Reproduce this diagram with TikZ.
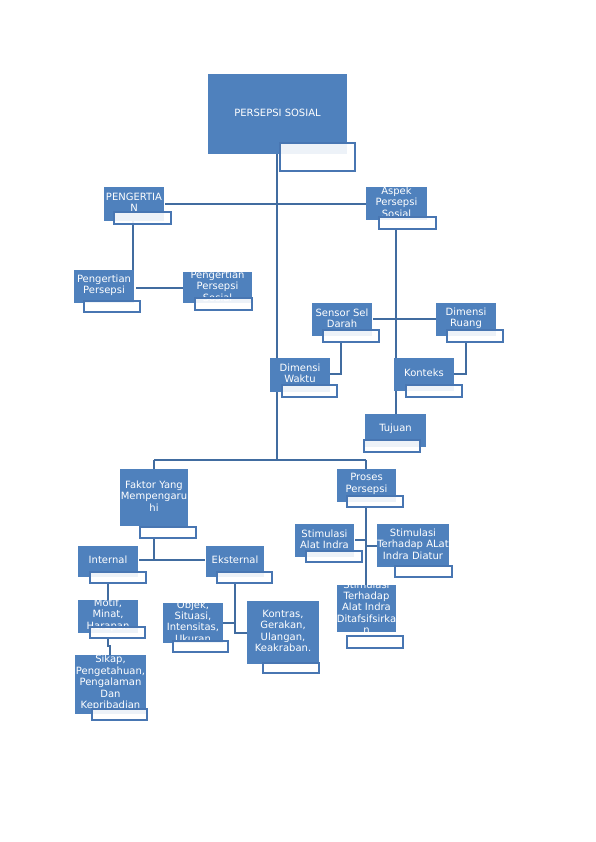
\documentclass[tikz,border=0pt]{standalone}
\usepackage{fontspec}
\setmainfont{DejaVu Sans}
\definecolor{boxblue}{RGB}{79,129,189}
\definecolor{lblline}{RGB}{72,118,178}
\definecolor{lineblue}{RGB}{65,108,160}
\tikzset{
 bx/.style={rectangle, fill=boxblue, inner sep=0pt, outer sep=0pt},
 lb/.style={rectangle, draw=lblline, line width=1.3pt, fill=white, fill opacity=0.9, inner sep=0pt},
 txt/.style={text=white, font=\fontsize{10}{11.4}\selectfont, align=center, inner sep=0pt, yshift=1.5pt},
 conn/.style={draw=lineblue, line width=1.4pt}
}
\newcommand\diabox[6]{%
 \node[bx, minimum width={(#4-#2)*1pt}, minimum height={(#5-#3)*1pt}] (#1) at ({(#2+#4)/2},{(#3+#5)/2}) {};
 \begin{scope}\clip (#2,#3) rectangle (#4,#5);
 \node[txt] (#1t) at (#1.center) {#6};
 \end{scope}}
\newcommand\dialbl[5]{%
 \node[lb, minimum width={(#4-#2)*1pt}, minimum height={(#5-#3)*1pt}] (#1) at ({(#2+#4)/2},{(#3+#5)/2}) {};}
\begin{document}
\begin{tikzpicture}[x=1pt,y=-1pt]
\useasboundingbox[fill=white] (0,0) rectangle (595,842);
% junction coordinates
\coordinate (spine) at (277,460);
\coordinate (fakTop) at (154,460);
\coordinate (prosTop) at (366,460);
\coordinate (ruJ) at (466,374);
\coordinate (seJ) at (341,374);
\coordinate (ekJ) at (235,633);
\coordinate (obJ) at (235,623);
\coordinate (moJ1) at (108,646);
\coordinate (moJ2) at (110,646);
\coordinate (stJ1) at (366,540);
\coordinate (stJ2) at (366,546);
% ---------- connectors ----------
\draw[conn] (277,154) -- (spine);
\draw[conn] (fakTop) -- (prosTop);
\draw[conn] (fakTop) -- (154,469);
\draw[conn] (prosTop) -- (366,469);
\draw[conn] (165,204) -- (366,204);
\draw[conn] (133,221) -- (133,270);
\draw[conn] (136,288) -- (183,288);
\draw[conn] (396,229) -- (396,414);
\draw[conn] (373,319) -- (436,319);
\draw[conn] (466,342) -- (ruJ) -- (454,374);
\draw[conn] (341,342) -- (seJ) -- (330,374);
\draw[conn] (154,538) -- (154,560);
\draw[conn] (139,560) -- (205,560);
\draw[conn] (108,583) -- (108,600);
\draw[conn] (235,583) -- (ekJ) -- (247,633);
\draw[conn] (223,623) -- (obJ);
\draw[conn] (108,638) -- (moJ1) -- (moJ2) -- (110,655);
\draw[conn] (366,507) -- (366,585);
\draw[conn] (355,540) -- (stJ1);
\draw[conn] (stJ2) -- (377,546);
% ---------- boxes ----------
\diabox{main}{208}{74}{347}{154}{PERSEPSI SOSIAL}
\dialbl{mainl}{280}{143}{355}{171}
\diabox{peng}{104}{187}{164}{221}{PENGERTIA\\N}
\dialbl{pengl}{114}{212}{171}{224}
\diabox{pp}{74}{270}{134}{303}{Pengertian\\Persepsi}
\dialbl{ppl}{84}{301}{140}{312}
\diabox{pps}{183}{272}{252}{303}{Pengertian\\Persepsi\\Sosial}
\dialbl{ppsl}{195}{298}{252}{310}
\diabox{asp}{366}{187}{427}{220}{Aspek\\Persepsi\\Sosial}
\dialbl{aspl}{379}{217}{436}{229}
\diabox{sens}{312}{303}{372}{336}{Sensor Sel\\Darah}
\dialbl{sensl}{323}{330}{379}{342}
\diabox{ruang}{436}{303}{496}{336}{Dimensi\\Ruang}
\dialbl{ruangl}{447}{330}{503}{342}
\diabox{kont}{394}{358}{454}{391}{Konteks}
\dialbl{kontl}{406}{385}{462}{397}
\diabox{waktu}{270}{358}{330}{392}{Dimensi\\Waktu}
\dialbl{waktul}{282}{385}{337}{397}
\diabox{tuj}{365}{414}{426}{447}{Tujuan}
\dialbl{tujl}{364}{440}{420}{452}
\diabox{fak}{120}{469}{188}{526}{Faktor Yang\\Mempengaru\\hi}
\dialbl{fakl}{140}{527}{196}{538}
\diabox{intl}{78}{546}{138}{577}{Internal}
\dialbl{intll}{90}{572}{146}{583}
\diabox{eks}{206}{546}{264}{577}{Eksternal}
\dialbl{eksl}{217}{572}{272}{583}
\diabox{motif}{78}{600}{138}{633}{Motif,\\Minat,\\Harapan}
\dialbl{motifl}{90}{627}{145}{638}
\diabox{sikap}{75}{655}{146}{714}{Sikap,\\Pengetahuan,\\Pengalaman\\Dan\\Kepribadian}
\dialbl{sikapl}{92}{709}{147}{720}
\diabox{objek}{163}{603}{223}{643}{Objek,\\Situasi,\\Intensitas,\\Ukuran}
\dialbl{objekl}{173}{641}{228}{652}
\diabox{kontras}{247}{601}{319}{664}{Kontras,\\Gerakan,\\Ulangan,\\Keakraban.}
\dialbl{kontrasl}{263}{663}{319}{673}
\diabox{pros}{337}{469}{396}{502}{Proses\\Persepsi}
\dialbl{prosl}{347}{496}{403}{507}
\diabox{stim}{295}{524}{354}{557}{Stimulasi\\Alat Indra}
\dialbl{stiml}{306}{551}{362}{562}
\diabox{stimb}{377}{524}{449}{567}{Stimulasi\\Terhadap ALat\\Indra Diatur}
\dialbl{stimbl}{395}{566}{452}{577}
\diabox{stimc}{337}{585}{396}{632}{Stimulasi\\Terhadap\\Alat Indra\\Ditafsifsirka\\n}
\dialbl{stimcl}{347}{636}{403}{648}
\end{tikzpicture}
\end{document}
